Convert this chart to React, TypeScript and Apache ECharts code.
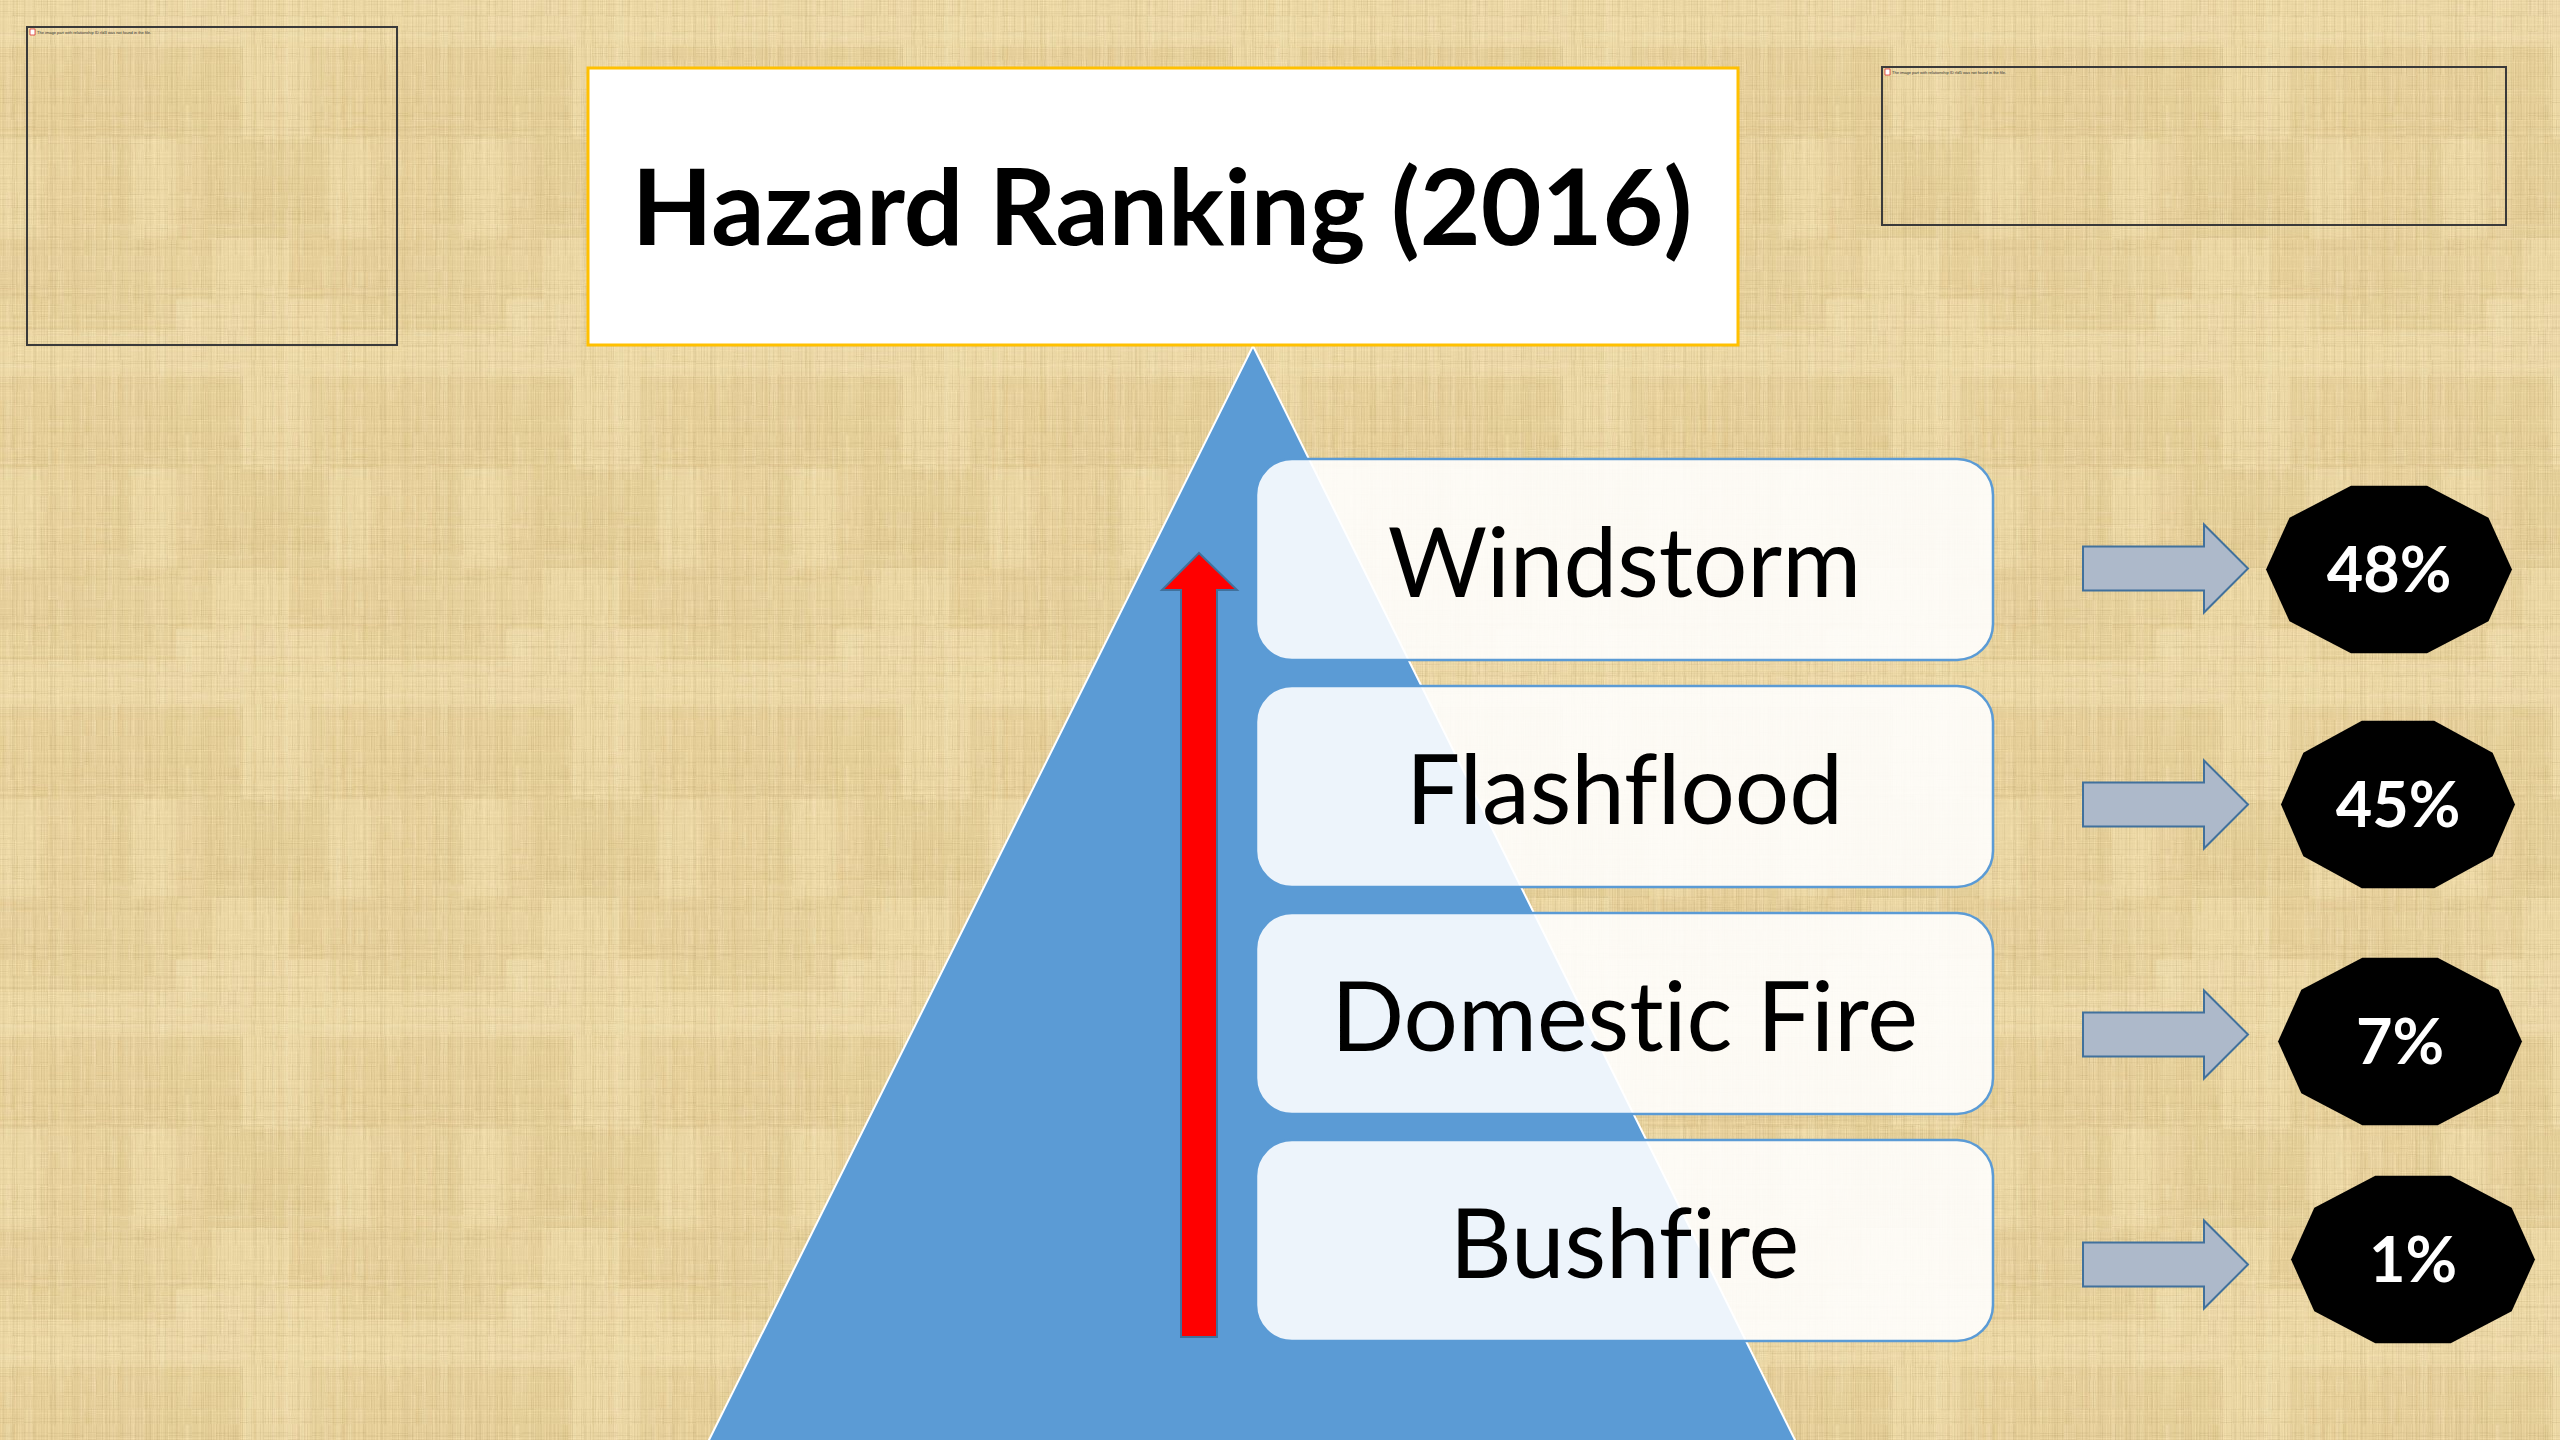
import React, { useEffect, useRef } from "react";
import * as echarts from "echarts";

// ---- data ----
const hazards = ["Windstorm", "Flashflood", "Domestic Fire", "Bushfire"];
const percentages = [48, 45, 7, 1];
const titleText = "Hazard Ranking (2016)";
const placeholderTexts = [
  "The image part with relationship ID rId3 was not found in the file.",
  "The image part with relationship ID rId5 was not found in the file.",
];

// ---- layout (pixels, page 2560x1440) ----
const W = 2560;
const H = 1440;
const BOX_L = 1256;
const BOX_R = 1993;
const BOX_H = 201;
const ARROW_L = 2083;
const ARROW_HEAD = 2204;
const ARROW_TIP = 2248;
const BADGE_X = 2400;
const badgeDx = [-11, -2, 0, 13];
const badgeDy = [10, 18, 28, 19];
const arrowDy = [9, 18, 21, 24];
const badgeRx = [123, 117, 122, 122];
const BADGE_RY = 88;

function hash(n: number) {
  const s = Math.sin(n * 127.1 + 311.7) * 43758.5453;
  return s - Math.floor(s);
}

function makeTexture(): string {
  const T = 330;
  const tile = document.createElement("canvas");
  tile.width = T;
  tile.height = T;
  const c = tile.getContext("2d")!;
  c.fillStyle = "#E9D4A0";
  c.fillRect(0, 0, T, T);
  // soft patches of varied size
  let k = 1;
  let y = 0;
  while (y < T) {
    const bh = 40 + Math.floor(hash(k++) * 70);
    let x = 0;
    while (x < T) {
      const bw = 25 + Math.floor(hash(k++) * 70);
      const h = hash(k++);
      c.fillStyle = h > 0.5 ? `rgba(247,232,190,${0.22 * h})` : `rgba(210,180,115,${0.18 * (1 - h)})`;
      c.fillRect(x, y, bw, bh);
      x += bw;
    }
    y += bh;
  }
  // vertical fibers
  for (let x = 0; x < T; x++) {
    const h = hash(x + 1000);
    if (h > 0.35) {
      for (let yy = 0; yy < T; yy += 15) {
        const g = hash(x * 31 + yy + 5000);
        const dark = hash(x + 7000) > 0.55;
        c.fillStyle = dark ? `rgba(185,150,85,${0.18 * g})` : `rgba(252,240,205,${0.28 * g})`;
        c.fillRect(x, yy, 1, 15);
      }
    }
  }
  // horizontal fibers
  for (let yy = 0; yy < T; yy++) {
    const h = hash(yy + 9000);
    if (h > 0.55) {
      for (let x = 0; x < T; x += 12) {
        const g = hash(yy * 17 + x + 12000);
        const dark = hash(yy + 15000) > 0.5;
        c.fillStyle = dark ? `rgba(185,150,85,${0.16 * g})` : `rgba(252,240,205,${0.22 * g})`;
        c.fillRect(x, yy, 12, 1);
      }
    }
  }
  const big = document.createElement("canvas");
  big.width = W;
  big.height = H;
  const b = big.getContext("2d")!;
  const pat = b.createPattern(tile, "repeat")!;
  b.fillStyle = pat;
  b.fillRect(0, 0, W, H);
  return big.toDataURL("image/jpeg", 0.85);
}

function decagon(cx: number, cy: number, rx: number, ry: number) {
  const pts: number[][] = [];
  for (let j = 0; j < 10; j++) {
    const a = ((72 + 36 * j) * Math.PI) / 180;
    pts.push([cx + rx * Math.cos(a), cy - ry * Math.sin(a)]);
  }
  return pts;
}

function textStyle(text: string, x: number, y: number, size: number, weight: string, fill: string) {
  return {
    text,
    x,
    y,
    fill,
    fontSize: size,
    fontWeight: weight,
    fontFamily: "Lato",
    align: "center",
    verticalAlign: "middle",
    textAlign: "center",
    textVerticalAlign: "middle",
  };
}

export default function App() {
  const ref = useRef<HTMLDivElement>(null);
  useEffect(() => {
    if (!ref.current) return;
    const chart = echarts.init(ref.current, undefined, { renderer: "svg" });
    const tex = makeTexture();

    const placeholderBoxes = [
      { x: 27, y: 27, w: 370, h: 318 },
      { x: 1882, y: 67, w: 624, h: 158 },
    ];

    const graphics: any[] = [
      { type: "image", z: 0, style: { image: tex, x: 0, y: 0, width: W, height: H } },
    ];
    placeholderBoxes.forEach((p, i) => {
      graphics.push({
        type: "rect",
        z: 1,
        shape: { x: p.x, y: p.y, width: p.w, height: p.h },
        style: { fill: "none", stroke: "#3a3a3a", lineWidth: 2 },
      });
      graphics.push({
        type: "rect",
        z: 1,
        shape: { x: p.x + 3, y: p.y + 2, width: 5, height: 6 },
        style: { fill: "#ffffff", stroke: "#d33", lineWidth: 0.8 },
      });
      graphics.push({
        type: "text",
        z: 1,
        style: {
          text: placeholderTexts[i],
          x: p.x + 10,
          y: p.y + 5,
          fill: "#333",
          fontSize: 4,
          fontFamily: "Liberation Sans",
          align: "left",
          verticalAlign: "middle",
          textAlign: "left",
          textVerticalAlign: "middle",
        },
      });
    });
    // pyramid
    graphics.push({
      type: "polygon",
      z: 1,
      shape: { points: [[1253, 346], [1798, 1446], [706, 1446]] },
      style: { fill: "#5B9BD5", stroke: "#ffffff", lineWidth: 2 },
    });
    // red up arrow
    graphics.push({
      type: "polygon",
      z: 1,
      shape: {
        points: [
          [1199, 553], [1237, 590], [1217, 590], [1217, 1337],
          [1181, 1337], [1181, 590], [1162, 590],
        ],
      },
      style: { fill: "#FF0000", stroke: "#41719C", lineWidth: 2 },
    });
    // title
    graphics.push({
      type: "rect",
      z: 1,
      shape: { x: 588, y: 68, width: 1150, height: 277 },
      style: { fill: "#ffffff", stroke: "#FFC000", lineWidth: 3 },
    });
    graphics.push({
      type: "text",
      z: 1,
      style: textStyle(titleText, 1162, 204, 105, "bold", "#000000"),
    });

    const option: any = {
      animation: false,
      backgroundColor: "#E9D4A0",
      grid: { left: 0, right: 0, top: 446, bottom: 86, containLabel: false },
      xAxis: { type: "value", min: 0, max: W, show: false },
      yAxis: { type: "category", data: hazards, inverse: true, show: false },
      graphic: { elements: graphics },
      series: [
        {
          type: "custom",
          z: 5,
          data: hazards.map((h, i) => ({ name: h, value: [percentages[i], i] })),
          encode: { x: 0, y: 1 },
          renderItem: (params: any, api: any) => {
            const i = params.dataIndex;
            const cy = api.coord([0, api.value(1)])[1];
            const ay = cy + arrowDy[i];
            const bx = BADGE_X + badgeDx[i];
            const by = cy + badgeDy[i];
            return {
              type: "group",
              children: [
                {
                  type: "rect",
                  shape: { x: BOX_L, y: cy - BOX_H / 2, width: BOX_R - BOX_L, height: BOX_H, r: 36 },
                  style: { fill: "rgba(255,255,255,0.89)", stroke: "#5B9BD5", lineWidth: 2.5 },
                },
                {
                  type: "text",
                  style: textStyle(hazards[i], (BOX_L + BOX_R) / 2, cy, 96, "normal", "#000000"),
                },
                {
                  type: "polygon",
                  shape: {
                    points: [
                      [ARROW_L, ay - 22], [ARROW_HEAD, ay - 22], [ARROW_HEAD, ay - 44],
                      [ARROW_TIP, ay], [ARROW_HEAD, ay + 44], [ARROW_HEAD, ay + 22],
                      [ARROW_L, ay + 22],
                    ],
                  },
                  style: { fill: "#ADB9CA", stroke: "#41719C", lineWidth: 2 },
                },
                {
                  type: "polygon",
                  shape: { points: decagon(bx, by, badgeRx[i], BADGE_RY) },
                  style: { fill: "#000000" },
                },
                {
                  type: "text",
                  style: textStyle(api.value(0) + "%", bx, by - 2, 63, "bold", "#ffffff"),
                },
              ],
            };
          },
        },
      ],
    };
    chart.setOption(option);
    return () => chart.dispose();
  }, []);
  return (
    <>
      <style>{`svg text{font-variant-ligatures:none;font-feature-settings:"liga" 0,"clig" 0,"dlig" 0;}`}</style>
      <div
        ref={ref}
        style={{ position: "absolute", left: 0, top: 0, width: W, height: H, overflow: "hidden" }}
      />
    </>
  );
}
